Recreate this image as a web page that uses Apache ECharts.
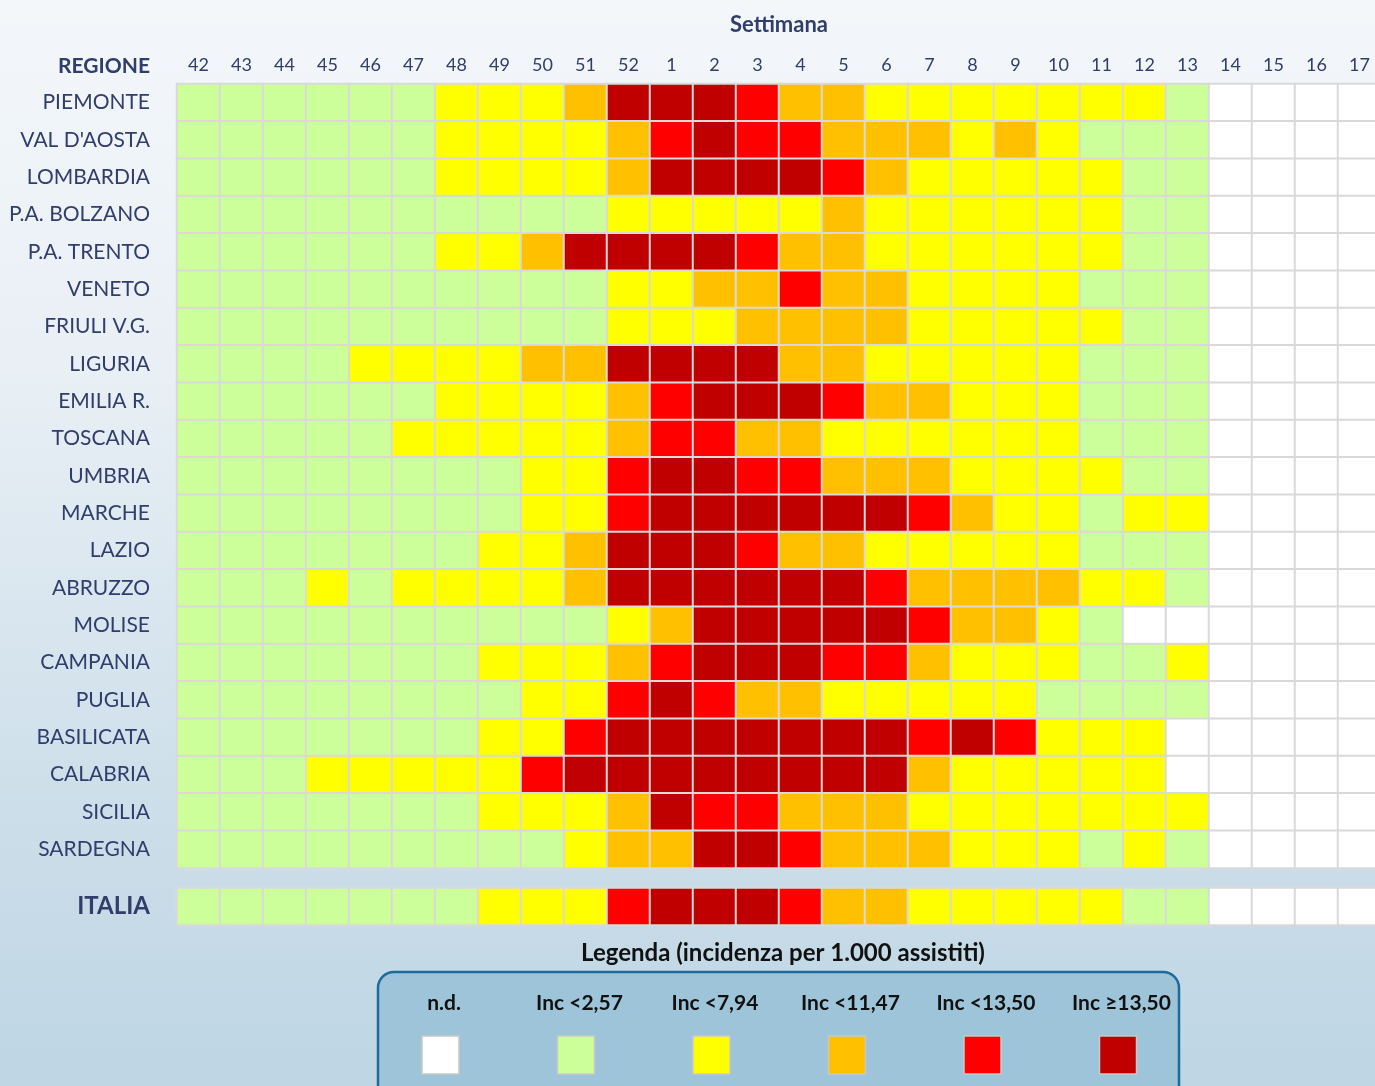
<!DOCTYPE html>
<html>
<head>
<meta charset="utf-8">
<script src="https://cdn.jsdelivr.net/npm/echarts@6/dist/echarts.min.js"></script>
<style>
html,body{margin:0;padding:0;}
#chart{width:1375px;height:1086px;}
</style>
</head>
<body>
<div id="chart"></div>
<script>
// Weeks (columns)
const weeks = ['42','43','44','45','46','47','48','49','50','51','52','1','2','3','4','5','6','7','8','9','10','11','12','13','14','15','16','17'];
// Regions (rows)
const regions = ['PIEMONTE',"VAL D'AOSTA",'LOMBARDIA','P.A. BOLZANO','P.A. TRENTO','VENETO','FRIULI V.G.','LIGURIA','EMILIA R.','TOSCANA','UMBRIA','MARCHE','LAZIO','ABRUZZO','MOLISE','CAMPANIA','PUGLIA','BASILICATA','CALABRIA','SICILIA','SARDEGNA'];
// Level per week: 0 = n.d., 1 = <2,57, 2 = <7,94, 3 = <11,47, 4 = <13,50, 5 = >=13,50
const piemonte   = [1,1,1,1,1,1,2,2,2,3,5,5,5,4,3,3,2,2,2,2,2,2,2,1,0,0,0,0];
const valdaosta  = [1,1,1,1,1,1,2,2,2,2,3,4,5,4,4,3,3,3,2,3,2,1,1,1,0,0,0,0];
const lombardia  = [1,1,1,1,1,1,2,2,2,2,3,5,5,5,5,4,3,2,2,2,2,2,1,1,0,0,0,0];
const bolzano    = [1,1,1,1,1,1,1,1,1,1,2,2,2,2,2,3,2,2,2,2,2,2,1,1,0,0,0,0];
const trento     = [1,1,1,1,1,1,2,2,3,5,5,5,5,4,3,3,2,2,2,2,2,2,1,1,0,0,0,0];
const veneto     = [1,1,1,1,1,1,1,1,1,1,2,2,3,3,4,3,3,2,2,2,2,1,1,1,0,0,0,0];
const friuli     = [1,1,1,1,1,1,1,1,1,1,2,2,2,3,3,3,3,2,2,2,2,2,1,1,0,0,0,0];
const liguria    = [1,1,1,1,2,2,2,2,3,3,5,5,5,5,3,3,2,2,2,2,2,1,1,1,0,0,0,0];
const emilia     = [1,1,1,1,1,1,2,2,2,2,3,4,5,5,5,4,3,3,2,2,2,1,1,1,0,0,0,0];
const toscana    = [1,1,1,1,1,2,2,2,2,2,3,4,4,3,3,2,2,2,2,2,2,1,1,1,0,0,0,0];
const umbria     = [1,1,1,1,1,1,1,1,2,2,4,5,5,4,4,3,3,3,2,2,2,2,1,1,0,0,0,0];
const marche     = [1,1,1,1,1,1,1,1,2,2,4,5,5,5,5,5,5,4,3,2,2,1,2,2,0,0,0,0];
const lazio      = [1,1,1,1,1,1,1,2,2,3,5,5,5,4,3,3,2,2,2,2,2,1,1,1,0,0,0,0];
const abruzzo    = [1,1,1,2,1,2,2,2,2,3,5,5,5,5,5,5,4,3,3,3,3,2,2,1,0,0,0,0];
const molise     = [1,1,1,1,1,1,1,1,1,1,2,3,5,5,5,5,5,4,3,3,2,1,0,0,0,0,0,0];
const campania   = [1,1,1,1,1,1,1,2,2,2,3,4,5,5,5,4,4,3,2,2,2,1,1,2,0,0,0,0];
const puglia     = [1,1,1,1,1,1,1,1,2,2,4,5,4,3,3,2,2,2,2,2,1,1,1,1,0,0,0,0];
const basilicata = [1,1,1,1,1,1,1,2,2,4,5,5,5,5,5,5,5,4,5,4,2,2,2,0,0,0,0,0];
const calabria   = [1,1,1,2,2,2,2,2,4,5,5,5,5,5,5,5,5,3,2,2,2,2,2,0,0,0,0,0];
const sicilia    = [1,1,1,1,1,1,1,2,2,2,3,5,4,4,3,3,3,2,2,2,2,2,2,2,0,0,0,0];
const sardegna   = [1,1,1,1,1,1,1,1,1,2,3,3,5,5,4,3,3,3,2,2,2,1,2,1,0,0,0,0];
const italia     = [1,1,1,1,1,1,1,2,2,2,4,5,5,5,4,3,3,2,2,2,2,2,1,1,0,0,0,0];
// Legend classes
const levelLabels = ['n.d.','Inc <2,57','Inc <7,94','Inc <11,47','Inc <13,50','Inc \u226513,50'];
const levelColors = ['#ffffff','#ccff99','#ffff00','#ffc000','#ff0000','#c00000'];

const regionRows = [piemonte,valdaosta,lombardia,bolzano,trento,veneto,friuli,liguria,emilia,toscana,umbria,marche,lazio,abruzzo,molise,campania,puglia,basilicata,calabria,sicilia,sardegna];

const regionData = [];
regionRows.forEach((row, r) => row.forEach((v, c) => regionData.push([c, r, v])));
const italiaData = italia.map((v, c) => [c, 0, v]);

const FONT = 'Lato';
const NAVY = '#313d6b';

const chart = echarts.init(document.getElementById('chart'));

const legendItems = [];
levelLabels.forEach((lab, i) => {
  const cx = 443 + i * 135.5;
  legendItems.push({
    type: 'text',
    style: { x: cx + 1, y: 1003, text: lab, align: 'center', verticalAlign: 'middle', font: 'bold 21px ' + FONT, fill: '#111111' }
  });
  legendItems.push({
    type: 'rect', shape: { x: cx - 21, y: 1036, width: 37, height: 38 },
    style: { fill: levelColors[i], stroke: '#c8c8c8', lineWidth: 1.5 }
  });
});

chart.setOption({
  backgroundColor: {
    type: 'linear', x: 0, y: 0, x2: 0, y2: 1,
    colorStops: [
      { offset: 0, color: '#f4f7fa' },
      { offset: 0.35, color: '#e8eff5' },
      { offset: 0.8, color: '#c9dce8' },
      { offset: 1, color: '#bed6e4' }
    ]
  },
  animation: false,
  grid: [
    { left: 177, top: 84, width: 1204, height: 784, outerBoundsMode: 'none', containLabel: false },
    { left: 177, top: 888, width: 1204, height: 37, outerBoundsMode: 'none', containLabel: false }
  ],
  xAxis: [
    {
      type: 'category', data: weeks, gridIndex: 0, position: 'top',
      name: 'Settimana', nameLocation: 'middle', nameGap: 48,
      nameTextStyle: { fontFamily: FONT, fontWeight: 'bold', fontSize: 22, color: NAVY },
      axisLine: { show: false }, axisTick: { show: false }, splitLine: { show: false },
      axisLabel: { fontFamily: FONT, fontSize: 18, color: NAVY, margin: 10, interval: 0 }
    },
    {
      type: 'category', data: weeks, gridIndex: 1,
      axisLine: { show: false }, axisTick: { show: false }, axisLabel: { show: false }, splitLine: { show: false }
    }
  ],
  yAxis: [
    {
      type: 'category', data: regions, gridIndex: 0, inverse: true,
      axisLine: { show: false }, axisTick: { show: false }, splitLine: { show: false },
      axisLabel: { fontFamily: FONT, fontSize: 21, color: NAVY, margin: 27, interval: 0 }
    },
    {
      type: 'category', data: ['ITALIA'], gridIndex: 1,
      axisLine: { show: false }, axisTick: { show: false }, splitLine: { show: false },
      axisLabel: { fontFamily: FONT, fontSize: 24, fontWeight: 'bold', color: NAVY, margin: 27 }
    }
  ],
  visualMap: {
    show: false, type: 'piecewise', dimension: 2, seriesIndex: [0, 1],
    pieces: levelColors.map((c, i) => ({ value: i, color: c }))
  },
  series: [
    {
      type: 'heatmap', xAxisIndex: 0, yAxisIndex: 0, data: regionData,
      itemStyle: { borderColor: '#d9d9d9', borderWidth: 2 },
      emphasis: { disabled: true }
    },
    {
      type: 'heatmap', xAxisIndex: 1, yAxisIndex: 1, data: italiaData,
      itemStyle: { borderColor: '#d9d9d9', borderWidth: 2 },
      emphasis: { disabled: true }
    }
  ],
  graphic: [
    {
      type: 'text',
      style: { x: 150, y: 66, text: 'REGIONE', align: 'right', verticalAlign: 'middle', font: 'bold 21px ' + FONT, fill: NAVY }
    },
    {
      type: 'text',
      style: { x: 783, y: 953, text: 'Legenda (incidenza per 1.000 assistiti)', align: 'center', verticalAlign: 'middle', font: 'bold 24px ' + FONT, fill: '#111111' }
    },
    {
      type: 'rect', shape: { x: 378, y: 972, width: 801, height: 140, r: 16 },
      style: { fill: '#9dc4d8', stroke: '#1d6a9b', lineWidth: 2.5 }
    }
  ].concat(legendItems)
});
</script>
</body>
</html>
